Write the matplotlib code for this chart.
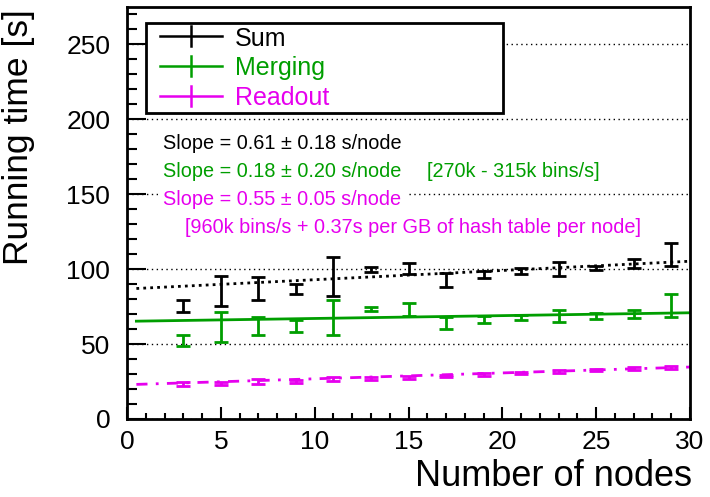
import numpy as np
import matplotlib
matplotlib.use("Agg")
import matplotlib.pyplot as plt
from matplotlib.ticker import MultipleLocator
from matplotlib.patches import Rectangle
from matplotlib.lines import Line2D

plt.rcParams['font.family'] = ['Liberation Sans', 'DejaVu Sans']

# ---- data ----
nodes = [3, 5, 7, 9, 11, 13, 15, 17, 19, 21, 23, 25, 27, 29]
sum_vals = [75.4, 85.5, 87.0, 87.0, 95.0, 99.7, 100.5, 92.5, 96.2, 98.7, 100.2, 100.9, 103.8, 110.0]
sum_errs = [4.0, 10.0, 7.6, 3.3, 13.0, 1.5, 3.8, 4.7, 2.4, 1.8, 4.7, 1.3, 2.9, 7.6]
merge_vals = [52.4, 61.3, 62.2, 61.9, 67.8, 73.3, 73.1, 63.8, 66.2, 67.8, 68.6, 68.6, 69.9, 75.7]
merge_errs = [3.6, 10.2, 6.0, 4.1, 11.6, 1.5, 4.4, 4.0, 2.4, 1.8, 4.1, 1.9, 2.8, 7.7]
read_vals = [23.3, 24.0, 24.9, 25.1, 26.7, 27.1, 27.8, 28.9, 29.8, 30.9, 31.8, 32.9, 33.8, 34.7]
read_errs = [1.5, 1.0, 1.5, 1.2, 1.3, 1.2, 0.8, 0.8, 0.8, 0.8, 0.8, 0.8, 1.0, 1.0]

fit_range = [0.5, 30.0]
fit_intercepts = [86.8, 65.2, 22.9]
fit_slopes = [0.617, 0.19, 0.393]

series_labels = ["Sum", "Merging", "Readout"]
slope_texts = ["Slope = 0.61 \u00b1 0.18 s/node",
               "Slope = 0.18 \u00b1 0.20 s/node",
               "Slope = 0.55 \u00b1 0.05 s/node"]
merge_note = "[270k - 315k bins/s]"
read_note = "[960k bins/s + 0.37s per GB of hash table per node]"

# ---- style ----
BLACK = "black"
GREEN = "#009e00"
MAGENTA = "#e600ee"
colors = [BLACK, GREEN, MAGENTA]
fit_styles = [(0, (1, 1.5)), "-", (0, (4, 3, 1, 3))]

W, H = 710, 497
fig = plt.figure(figsize=(W / 100, H / 100), dpi=100)
ax = fig.add_axes([127 / W, 78 / H, 563 / W, 412 / H])

ax.set_xlim(0, 30)
ax.set_ylim(0, 275)

# grid
ax.yaxis.set_major_locator(MultipleLocator(50))
ax.yaxis.set_minor_locator(MultipleLocator(10))
ax.xaxis.set_major_locator(MultipleLocator(5))
ax.xaxis.set_minor_locator(MultipleLocator(1))
ax.grid(axis='y', which='major', color='black', linestyle=(0, (1, 2.5)), linewidth=1.0, zorder=0)
ax.set_axisbelow(True)

# fits
xf = np.array(fit_range)
for b, m, c, ls in zip(fit_intercepts, fit_slopes, colors, fit_styles):
    ax.plot(xf, b + m * xf, color=c, linestyle=ls, linewidth=2.0, zorder=2)

# data
for vals, errs, c in zip([sum_vals, merge_vals, read_vals],
                         [sum_errs, merge_errs, read_errs], colors):
    ax.errorbar(nodes, vals, yerr=errs, fmt='none', ecolor=c, elinewidth=2.0,
                capsize=5, capthick=2.0, zorder=3)

# ticks
ax.tick_params(axis='both', which='both', direction='in', top=False, right=False, width=1.5)
ax.tick_params(axis='x', which='major', length=8.6, pad=8, labelsize=19)
ax.tick_params(axis='x', which='minor', length=4.3)
ax.tick_params(axis='y', which='major', length=13.7, pad=12, labelsize=19)
ax.tick_params(axis='y', which='minor', length=7)
for sp in ax.spines.values():
    sp.set_linewidth(2.0)

# legend box (drawn in figure pixel coordinates)
def fx(p):
    return p / W

def fy(p):
    return 1 - p / H

fig.patches.append(Rectangle((fx(146), fy(113)), fx(503) - fx(146), fy(23) - fy(113),
                             transform=fig.transFigure, facecolor='white', edgecolor='black',
                             linewidth=2.0, zorder=5))
row_y = [36, 66, 96]
for yy, c, lab in zip(row_y, colors, series_labels):
    fig.lines.append(Line2D([fx(160), fx(222)], [fy(yy), fy(yy)], transform=fig.transFigure,
                            color=c, linewidth=1.8, zorder=6))
    fig.lines.append(Line2D([fx(191), fx(191)], [fy(yy - 10), fy(yy + 10)], transform=fig.transFigure,
                            color=c, linewidth=1.8, zorder=6))
    fig.text(fx(235), fy(yy), lab, color=c, fontsize=18, ha='left', va='center_baseline', zorder=7)

# annotations
FS = 14.3
tx = (163 - 127) / 563
ys = [(419 - yb) / 412 for yb in (149, 177, 205, 233)]
ax.text(tx, ys[0], slope_texts[0], color=BLACK, fontsize=FS, transform=ax.transAxes, va='baseline')
ax.text(tx, ys[1], slope_texts[1], color=GREEN, fontsize=FS, transform=ax.transAxes, va='baseline')
ax.text((427 - 127) / 563, ys[1], merge_note, color=GREEN, fontsize=FS, transform=ax.transAxes, va='baseline')
ax.text(tx, ys[2], slope_texts[2], color=MAGENTA, fontsize=FS, transform=ax.transAxes, va='baseline',
        bbox=dict(facecolor='white', edgecolor='none', boxstyle='square,pad=0.25'))
ax.text((185 - 127) / 563, ys[3], read_note, color=MAGENTA, fontsize=FS, transform=ax.transAxes, va='baseline')

# axis titles
fig.text(19 / W, 1 - 9 / H, "Running time [s]", rotation=90, ha='center', va='top', fontsize=25.5)
fig.text(692 / W, 11 / H, "Number of nodes", ha='right', va='baseline', fontsize=26)

fig.savefig("out.png", dpi=100)
